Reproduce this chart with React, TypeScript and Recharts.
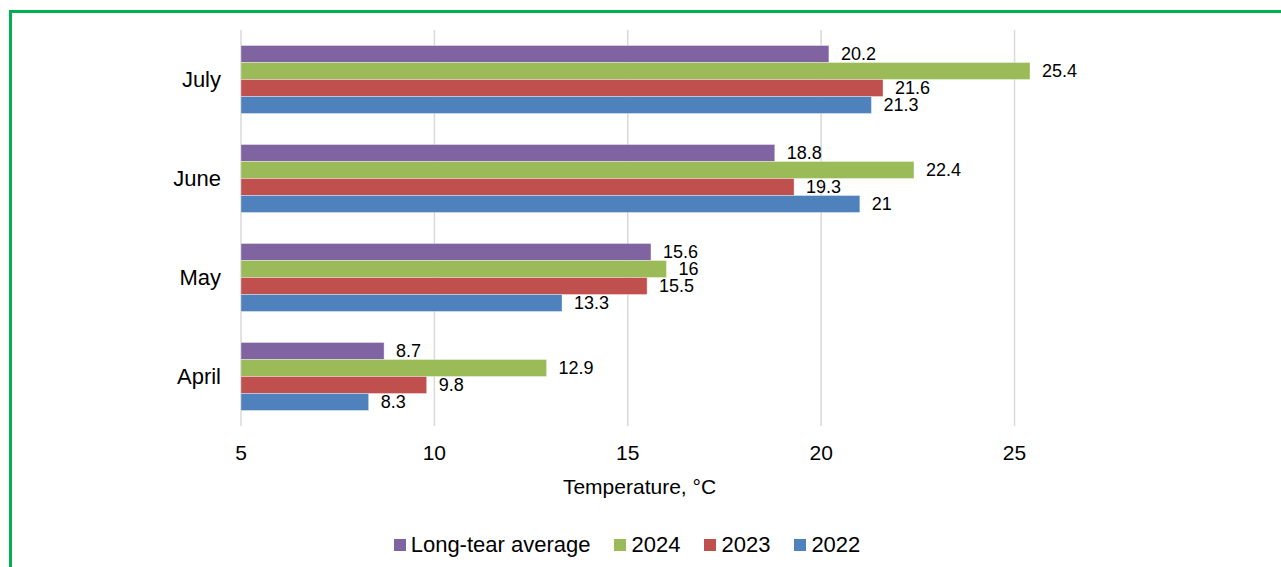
import { BarChart, Bar, XAxis, YAxis, CartesianGrid, Legend, LabelList } from 'recharts';

const months = ['July', 'June', 'May', 'April'];
const longTermAverage = [20.2, 18.8, 15.6, 8.7];
const values2024 = [25.4, 22.4, 16, 12.9];
const values2023 = [21.6, 19.3, 15.5, 9.8];
const values2022 = [21.3, 21, 13.3, 8.3];
const xTicks = [5, 10, 15, 20, 25];

const series = [
  { key: 'avg', name: 'Long-tear average', color: '#8064A2' },
  { key: 'y2024', name: '2024', color: '#9BBB59' },
  { key: 'y2023', name: '2023', color: '#C0504D' },
  { key: 'y2022', name: '2022', color: '#4F81BD' }
];

const data = months.map((month, i) => ({
  month,
  avg: longTermAverage[i],
  y2024: values2024[i],
  y2023: values2023[i],
  y2022: values2022[i]
}));

const LegendContent = () => (
  <div
    style={{
      display: 'flex',
      justifyContent: 'center',
      alignItems: 'center',
      height: 30,
      paddingLeft: 248,
      fontSize: 22,
      color: '#000'
    }}
  >
    {series.map((s) => (
      <div key={s.key} style={{ display: 'flex', alignItems: 'center', marginRight: 24 }}>
        <span style={{ width: 12, height: 12, background: s.color, marginRight: 5, display: 'inline-block' }} />
        <span>{s.name}</span>
      </div>
    ))}
  </div>
);

const App = () => {
  return (
    <div
      style={{
        position: 'fixed',
        left: 0,
        top: 0,
        width: 1281,
        height: 567,
        overflow: 'hidden',
        background: '#fff',
        fontFamily: '"Liberation Sans", Arial, sans-serif'
      }}
    >
      <div
        style={{
          position: 'absolute',
          left: 9,
          top: 10,
          width: 1400,
          height: 700,
          border: '3px solid #00B050'
        }}
      />
      <div style={{ position: 'absolute', left: 0, top: 0 }}>
        <BarChart
          width={1281}
          height={567}
          data={data}
          layout="vertical"
          margin={{ top: 30, right: 251, bottom: 7, left: 0 }}
          barCategoryGap={15.5}
          barGap={0}
        >
          <CartesianGrid horizontal={false} verticalValues={xTicks} stroke="#d9d9d9" strokeWidth={1.5} />
          <XAxis
            type="number"
            domain={[5, 25.4]}
            ticks={xTicks}
            allowDataOverflow
            axisLine={false}
            tickLine={false}
            tickMargin={13}
            height={104}
            tick={{ fontSize: 21, fill: '#000' }}
            label={{ value: 'Temperature, °C', position: 'insideBottom', offset: 36, dx: 4, fontSize: 21, fill: '#000' }}
          />
          <YAxis
            type="category"
            dataKey="month"
            width={241}
            axisLine={false}
            tickLine={false}
            tickMargin={14}
            tick={{ fontSize: 22, fill: '#000' }}
          />
          <Legend verticalAlign="bottom" content={<LegendContent />} />
          {series.map((s) => (
            <Bar
              key={s.key}
              dataKey={s.key}
              name={s.name}
              fill={s.color}
              stroke="#ffffff"
              strokeOpacity={0.35}
              strokeWidth={1}
              isAnimationActive={false}
            >
              <LabelList dataKey={s.key} position="right" offset={12} fontSize={18} fill="#000" />
            </Bar>
          ))}
        </BarChart>
      </div>
    </div>
  );
};

export default App;
